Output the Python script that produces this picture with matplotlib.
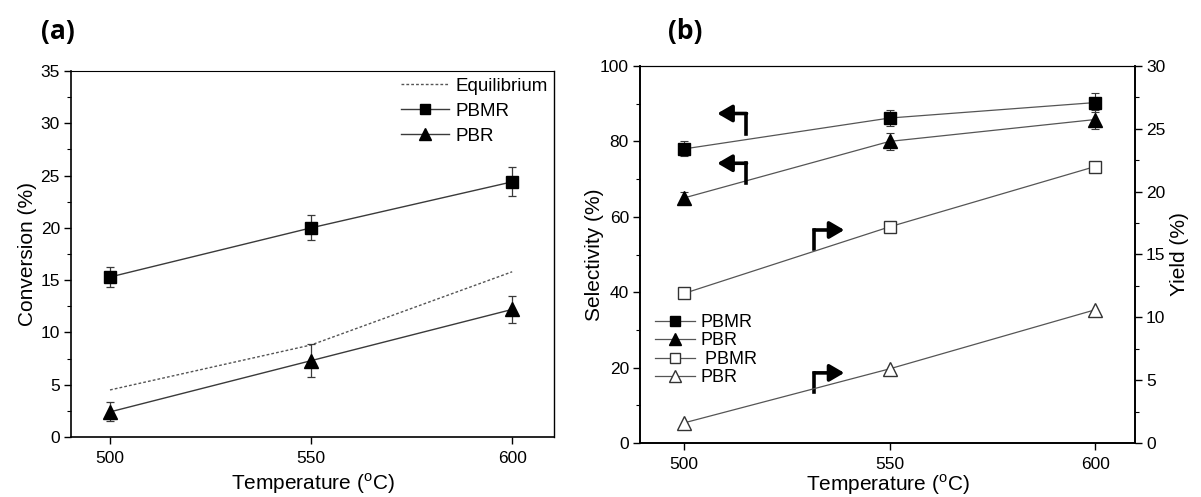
import matplotlib
matplotlib.use("Agg")
import matplotlib.pyplot as plt
from matplotlib.ticker import MultipleLocator
from matplotlib.lines import Line2D

plt.rcParams['font.family'] = ['Liberation Sans', 'DejaVu Sans']
plt.rcParams['mathtext.fontset'] = 'custom'
plt.rcParams['mathtext.rm'] = 'Liberation Sans'

# ---------------- data ----------------
temps = [500, 550, 600]

# panel (a) conversion (%)
conv_eq = [4.5, 8.8, 15.8]
conv_pbmr = [15.3, 20.0, 24.4]
conv_pbmr_err = [1.0, 1.2, 1.4]
conv_pbr = [2.4, 7.3, 12.2]
conv_pbr_err = [0.9, 1.6, 1.3]

# panel (b) selectivity (%) - left axis
sel_pbmr = [78.0, 86.2, 90.3]
sel_pbmr_err = [2.0, 2.2, 2.5]
sel_pbr = [65.0, 80.0, 85.8]
sel_pbr_err = [1.6, 2.3, 2.6]

# panel (b) yield (%) - right axis
yld_pbmr = [11.9, 17.2, 22.0]
yld_pbr = [1.6, 5.9, 10.6]

# bent arrows in panel (b) (left-axis data coords): stem x, stem bottom, corner y, tip x
arrow_stem_x = [515.2, 515.2, 531.7, 531.7]
arrow_bottom_y = [81.9, 68.9, 51.4, 13.6]
arrow_corner_y = [87.4, 74.2, 56.5, 18.6]
arrow_tip_x = [508.1, 508.1, 539.0, 539.0]

W, H = 1201, 497
fig = plt.figure(figsize=(W / 100, H / 100), dpi=100)

def rect(l, r, t, b):
    return [l / W, 1 - b / H, (r - l) / W, (b - t) / H]

tick_fs = 12.5
label_fs = 15
line_col = '#3a3a3a'

# ---------------- panel (a) ----------------
axa = fig.add_axes(rect(71, 554, 71, 437))
axa.plot(temps, conv_eq, linestyle=(0, (2, 1.5)), color='#555555', lw=1.0)
axa.errorbar(temps, conv_pbmr, yerr=conv_pbmr_err, color=line_col, lw=1.0,
             marker='s', ms=9, mfc='black', mec='black', ecolor=line_col,
             elinewidth=0.9, capsize=3, capthick=0.9)
axa.errorbar(temps, conv_pbr, yerr=conv_pbr_err, color=line_col, lw=1.0,
             marker='^', ms=10, mfc='black', mec='black', ecolor=line_col,
             elinewidth=0.9, capsize=3, capthick=0.9)
axa.set_xlim(490.3, 610.4)
axa.set_ylim(0, 35)
axa.set_xticks(temps)
axa.yaxis.set_major_locator(MultipleLocator(5))
axa.yaxis.set_minor_locator(MultipleLocator(2.5))
axa.tick_params(axis='both', which='major', direction='out', length=5,
                width=1, labelsize=tick_fs, pad=3)
axa.tick_params(axis='x', which='major', pad=5)
axa.tick_params(axis='y', which='minor', direction='out', length=3, width=0.8)
axa.set_xlabel('Temperature ($^{\\mathrm{o}}$C)', fontsize=label_fs, labelpad=4)
axa.set_ylabel('Conversion (%)', fontsize=label_fs)
axa.yaxis.set_label_coords((37 - 71) / 483, 0.5)
for s in axa.spines.values():
    s.set_linewidth(1.2)
axa.spines['top'].set_linewidth(0.8)
axa.spines['right'].set_linewidth(1.0)
leg_a = [Line2D([], [], linestyle=(0, (2, 1.5)), color='#555555', lw=1.0),
         Line2D([], [], color=line_col, lw=1.0, marker='s', ms=7, mfc='black', mec='black'),
         Line2D([], [], color=line_col, lw=1.0, marker='^', ms=9, mfc='black', mec='black')]
axa.legend(leg_a, ['Equilibrium', 'PBMR', 'PBR'], loc='upper right',
           bbox_to_anchor=(1.0, 1.0), frameon=False,
           fontsize=13.5, handlelength=2.6, handletextpad=0.3,
           labelspacing=0.42, borderaxespad=0.15, borderpad=0.2)

# ---------------- panel (b) ----------------
axb = fig.add_axes(rect(640, 1135, 66, 443))
axb2 = axb.twinx()
lc_b = '#555555'
axb.errorbar(temps, sel_pbmr, yerr=sel_pbmr_err, color=lc_b, lw=0.9,
             marker='s', ms=9, mfc='black', mec='black', ecolor=line_col,
             elinewidth=0.8, capsize=3, capthick=0.8)
axb.errorbar(temps, sel_pbr, yerr=sel_pbr_err, color=lc_b, lw=0.9,
             marker='^', ms=10, mfc='black', mec='black', ecolor=line_col,
             elinewidth=0.8, capsize=3, capthick=0.8)
axb2.plot(temps, yld_pbmr, color=lc_b, lw=0.9, marker='s', ms=9,
          mfc='white', mec='#333333', mew=1.0)
axb2.plot(temps, yld_pbr, color=lc_b, lw=0.9, marker='^', ms=10,
          mfc='white', mec='#333333', mew=1.0)

for sx, yb, yc, tx in zip(arrow_stem_x, arrow_bottom_y, arrow_corner_y, arrow_tip_x):
    axb.plot([sx, sx], [yb, yc], color='black', lw=2.6, solid_capstyle='projecting',
             zorder=5)
    axb.annotate('', xy=(tx, yc), xytext=(sx, yc),
                 arrowprops=dict(arrowstyle='-|>,head_length=0.55,head_width=0.32',
                                 color='black', lw=2.6, mutation_scale=16,
                                 shrinkA=0, shrinkB=0), zorder=5)

axb.set_xlim(489.3, 609.7)
axb.set_ylim(0, 100)
axb2.set_ylim(0, 30)
axb.set_xticks(temps)
axb.yaxis.set_major_locator(MultipleLocator(20))
axb.yaxis.set_minor_locator(MultipleLocator(10))
axb2.yaxis.set_major_locator(MultipleLocator(5))
axb2.yaxis.set_minor_locator(MultipleLocator(2.5))
for ax in (axb, axb2):
    ax.tick_params(axis='both', which='major', direction='out', length=5,
                   width=1, labelsize=tick_fs, pad=3)
    ax.tick_params(axis='y', which='minor', direction='out', length=3, width=0.8)
    for s in ax.spines.values():
        s.set_linewidth(1.2)
    ax.spines['top'].set_linewidth(0.8)
axb.tick_params(axis='x', which='major', pad=5)
axb.set_xlabel('Temperature ($^{\\mathrm{o}}$C)', fontsize=label_fs, labelpad=0)
axb.set_ylabel('Selectivity (%)', fontsize=label_fs)
axb.yaxis.set_label_coords((604 - 640) / 495, 0.5)
axb2.set_ylabel('Yield (%)', fontsize=label_fs, labelpad=3)

leg_b = [Line2D([], [], color=lc_b, lw=0.9, marker='s', ms=7, mfc='black', mec='black'),
         Line2D([], [], color=lc_b, lw=0.9, marker='^', ms=8, mfc='black', mec='black'),
         Line2D([], [], color=lc_b, lw=0.9, marker='s', ms=7, mfc='white', mec='#333333'),
         Line2D([], [], color=lc_b, lw=0.9, marker='^', ms=8, mfc='white', mec='#333333')]
axb2.legend(leg_b, ['PBMR', 'PBR', ' PBMR', 'PBR'],
            loc='upper left', bbox_to_anchor=(15 / 495, (443 - 314) / 377),
            frameon=False, fontsize=13, handlelength=2.2, handletextpad=0.3,
            labelspacing=0.08, borderaxespad=0, borderpad=0)

# panel tags
fig.text(41 / W, 1 - 31 / H, '(a)', fontsize=19, fontweight='bold',
         family=['Open Sans', 'DejaVu Sans'], va='center', ha='left')
fig.text(668 / W, 1 - 31 / H, '(b)', fontsize=19, fontweight='bold',
         family=['Open Sans', 'DejaVu Sans'], va='center', ha='left')

fig.savefig('out.png', dpi=100)
